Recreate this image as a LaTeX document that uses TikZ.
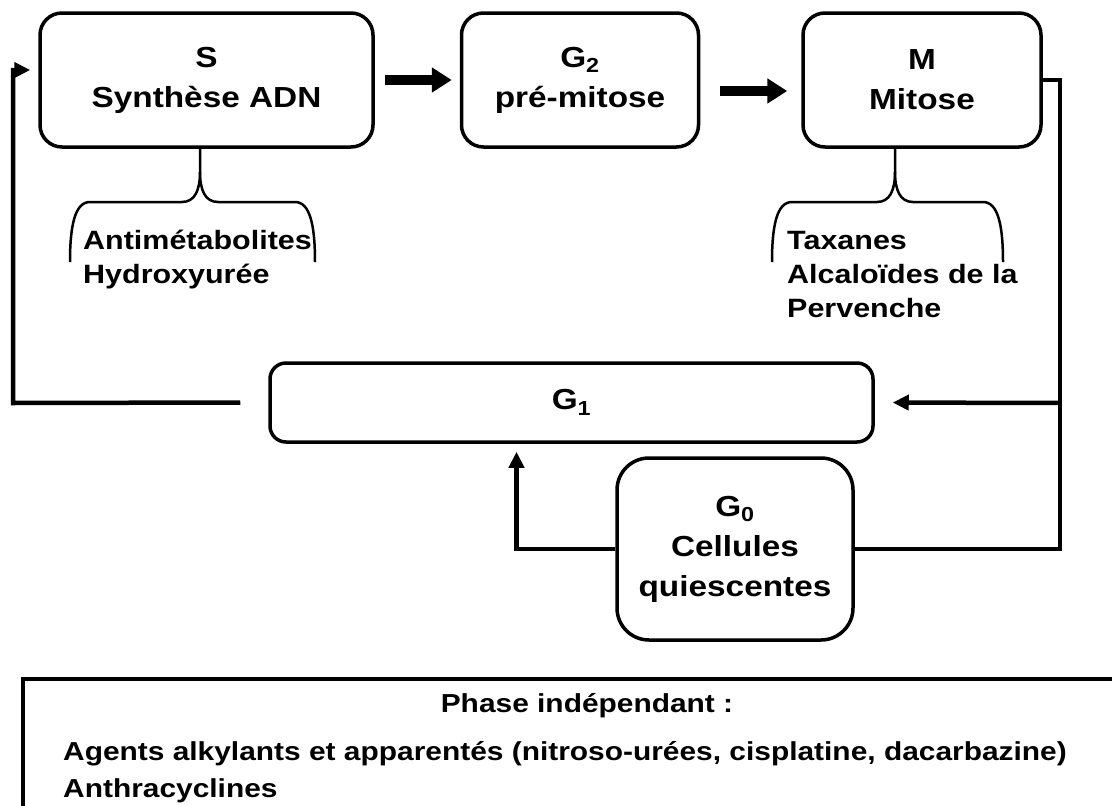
\documentclass[tikz,border=0pt]{standalone}
\usepackage{fontspec}
\setmainfont[FakeStretch=1.15]{Liberation Sans}
\usepackage{tikz}
\usetikzlibrary{positioning,arrows.meta}

\begin{document}
\begin{tikzpicture}[
    x=1pt, y=-1pt,
    phase/.style={draw, line width=3.5pt, rounded corners=22pt, align=center, inner sep=0pt, minimum height=134pt, font=\fontsize{29}{40}\selectfont\bfseries},
    drug/.style={align=left, inner sep=0pt, anchor=north west, font=\fontsize{26.5}{34}\selectfont\bfseries},
    note/.style={inner sep=0pt, font=\fontsize{26}{37}\selectfont\bfseries},
    link/.style={line width=4.5pt},
    flow/.style={link, -{Triangle[length=16pt,width=15pt]}},
    bigflow/.style={-{Triangle[length=20pt,width=24pt]}, line width=10pt},
    brace/.style={line width=2.5pt}
  ]
    \useasboundingbox (0,0) rectangle (1112,806);

    \node[phase, minimum width=333pt] (S) at (206.5,80) {S\\Synthèse ADN};
    \node[phase, minimum width=237pt, right=85pt of S] (G2) {G\textsubscript{2}\\pré-mitose};
    \node[phase, minimum width=238pt, right=101pt of G2] (M) {M\\Mitose};
    \node[phase, minimum width=603pt, minimum height=79pt, rounded corners=16pt] (G1) at (571.5,402.5) {G\textsubscript{1}};
    \node[phase, minimum width=236pt, minimum height=182pt, rounded corners=32pt] (G0) at (735,549) {G\textsubscript{0}\\Cellules\\quiescentes};

    \node[drug] (antimet) at (83,230) {Antimétabolites\\Hydroxyurée};
    \node[drug] (taxanes) at (787,231) {Taxanes\\Alcaloïdes de la\\Pervenche};

    \node[draw, line width=3.5pt, anchor=north west, minimum width=1200pt, minimum height=200pt] (indep) at (21,677) {};
    \node[note, anchor=base] (indeptitle) at (587,712) {Phase indépendant :};
    \node[note, align=left, anchor=north west] (indeplist) at (63,741) {Agents alkylants et apparentés (nitroso-urées, cisplatine, dacarbazine)\\Anthracyclines};

    % braces under S and M
    \foreach \lx/\sx/\rx in {70/200/315, 772/895/1003} {
      \draw[brace] (\lx,262) .. controls (\lx,225) and (\lx+5,202) .. (\lx+20,202) -- (\sx-18,202)
        .. controls (\sx-5,202) and (\sx,190) .. (\sx,172) -- (\sx,147);
      \draw[brace] (\sx,172) .. controls (\sx,190) and (\sx+5,202) .. (\sx+18,202) -- (\rx-20,202)
        .. controls (\rx-5,202) and (\rx,225) .. (\rx,262);
    }

    \coordinate (rside) at (1060,403);
    \coordinate (lside) at (13,403);

    \draw[bigflow] ([xshift=10pt]S.east) -- ([xshift=-8pt]G2.west);
    \draw[bigflow] ([xshift=20pt,yshift=-11pt]G2.east) -- ([xshift=-14pt,yshift=-11pt]M.west);
    \draw[link] (M.east) -| (rside);
    \draw[link] (G0.east) -| (rside);
    \draw[flow, shorten >=18pt] (rside) -- (G1.east);
    \draw[flow, shorten >=8pt] (G0.west) -| ([xshift=-55pt]G1.south);
    \draw[flow, shorten >=8pt] ([xshift=-28pt]G1.west) -- (lside) |- ([yshift=10pt]S.west);
  \end{tikzpicture}
\end{document}
